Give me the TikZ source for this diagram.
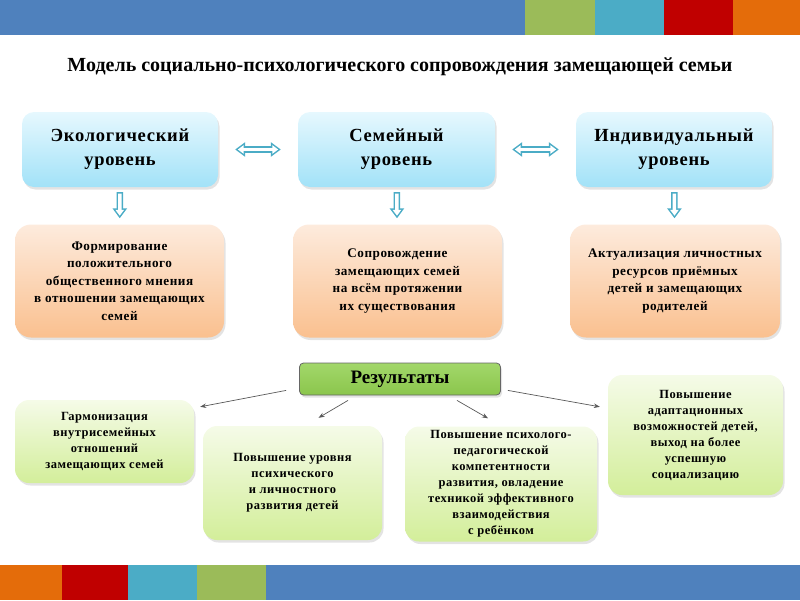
\documentclass[tikz,border=0pt]{standalone}
\usepackage{fontspec}
\setmainfont{Liberation Serif}
\usetikzlibrary{arrows.meta}
\usetikzlibrary{shadows}
\definecolor{barblue}{HTML}{4F81BD}
\definecolor{bargreen}{HTML}{9BBB59}
\definecolor{barcyan}{HTML}{4BACC6}
\definecolor{barred}{HTML}{C00000}
\definecolor{barorange}{HTML}{E46C0A}
\definecolor{levtop}{HTML}{E6F8FE}
\definecolor{levbot}{HTML}{A2E2F8}
\definecolor{acttop}{HTML}{FDEBDD}
\definecolor{actbot}{HTML}{FAC08F}
\definecolor{restop}{HTML}{F5FBE8}
\definecolor{resbot}{HTML}{D3EE9A}
\definecolor{headgreen}{HTML}{92D050}
\definecolor{arrowteal}{HTML}{4BACC6}

\begin{document}
\begin{tikzpicture}[x=1pt,y=-1pt,
	box/.style={align=center,inner sep=2pt,drop shadow={opacity=0.22,shadow xshift=1.5pt,shadow yshift=-2.5pt}},
	level/.style={box,rounded corners=12pt,top color=levtop,bottom color=levbot,minimum width=196pt,minimum height=75pt,
		font=\fontsize{18.5}{24}\selectfont\bfseries\addfontfeatures{LetterSpace=4}},
	action/.style={box,rounded corners=16pt,top color=acttop,bottom color=actbot,minimum width=209pt,minimum height=113pt,
		font=\fontsize{13.2}{17.5}\selectfont\bfseries\addfontfeatures{LetterSpace=4}},
	result/.style={box,rounded corners=14pt,top color=restop,bottom color=resbot,
		font=\fontsize{12.5}{16}\selectfont\bfseries\addfontfeatures{LetterSpace=4}},
	outerhead/.tip={Triangle[length=10pt,width=14pt]},
	innerhead/.tip={Triangle[length=5.9pt,width=8.3pt]},
	blockout/.style={draw=arrowteal,line width=6.5pt},
	blockin/.style={draw=white,line width=3.5pt},
	resarrow/.style={draw=black!65,line width=0.7pt,-{Stealth[length=6pt,width=4.5pt]}}]
\useasboundingbox (0,0) rectangle (800,600);
% colour bars
\fill[barblue] (0,0) rectangle (525,35);
\fill[bargreen] (525,0) rectangle (595,35);
\fill[barcyan] (595,0) rectangle (664,35);
\fill[barred] (664,0) rectangle (733,35);
\fill[barorange] (733,0) rectangle (800,35);
\fill[barorange] (0,565) rectangle (62,600);
\fill[barred] (62,565) rectangle (128,600);
\fill[barcyan] (128,565) rectangle (197,600);
\fill[bargreen] (197,565) rectangle (266,600);
\fill[barblue] (266,565) rectangle (800,600);

\node[font=\fontsize{20}{22}\selectfont\bfseries] (title) at (400,67)
	{Модель социально-психологического сопровождения замещающей семьи};

% levels
\node[level] (eco) at (120,149.5) {Экологический\\уровень};
\node[level,minimum width=197pt] (fam) at (396.5,149.5) {Семейный\\уровень};
\node[level] (ind) at (674,149.5) {Индивидуальный\\уровень};

\draw[blockout,outerhead-outerhead,shorten <=17pt,shorten >=17pt] (eco) -- (fam);
\draw[blockin,innerhead-innerhead,shorten <=19.6pt,shorten >=19.6pt] (eco) -- (fam);
\draw[blockout,outerhead-outerhead,shorten <=17pt,shorten >=17pt] (fam) -- (ind);
\draw[blockin,innerhead-innerhead,shorten <=19.6pt,shorten >=19.6pt] (fam) -- (ind);

% actions
\node[action] (formir) at (119.5,281) {Формирование\\положительного\\общественного мнения\\в отношении замещающих\\семей};
\node[action] (soprov) at (397.5,281) {Сопровождение\\замещающих семей\\на всём протяжении\\их существования};
\node[action,minimum width=210pt] (aktual) at (675,281) {Актуализация личностных\\ресурсов приёмных\\детей и замещающих\\родителей};

\draw[blockout,-outerhead,shorten <=5pt,shorten >=6pt] (eco) -- (formir);
\draw[blockin,-innerhead,shorten <=6.5pt,shorten >=8.6pt] (eco) -- (formir);
\draw[blockout,-outerhead,shorten <=5pt,shorten >=6pt] (fam) -- (soprov);
\draw[blockin,-innerhead,shorten <=6.5pt,shorten >=8.6pt] (fam) -- (soprov);
\draw[blockout,-outerhead,shorten <=5pt,shorten >=6pt] (ind) -- (aktual);
\draw[blockin,-innerhead,shorten <=6.5pt,shorten >=8.6pt] (ind) -- (aktual);

% results
\node[box,rounded corners=4pt,draw=black!60,line width=0.8pt,top color=headgreen!85!white,bottom color=headgreen!95!black,
	minimum width=201pt,minimum height=32pt,font=\fontsize{19}{22}\selectfont\bfseries] (res) at (400,379) {Результаты};

\node[result,minimum width=179pt,minimum height=83pt] (harm) at (104.5,441.5)
	{Гармонизация\\внутрисемейных\\отношений\\замещающих семей};
\node[result,minimum width=179pt,minimum height=114pt] (razv) at (292.5,483)
	{Повышение уровня\\психического\\и личностного\\развития детей};
\node[result,minimum width=192pt,minimum height=115pt] (komp) at (501,484)
	{Повышение психолого-\\педагогической\\компетентности\\развития, овладение\\техникой эффективного\\взаимодействия\\с ребёнком};
\node[result,minimum width=175pt,minimum height=120pt] (adapt) at (695.5,435)
	{Повышение\\адаптационных\\возможностей детей,\\выход на более\\успешную\\социализацию};

\draw[resarrow] ([shift={(-13,-5)}]res.south west) -- ([shift={(6,7)}]harm.north east);
\draw[resarrow] ([shift={(-52,5)}]res.south) -- ([shift={(26,-8)}]razv.north);
\draw[resarrow] ([shift={(57,5)}]res.south) -- ([shift={(-13,-8)}]komp.north);
\draw[resarrow] ([shift={(7,-5)}]res.south east) -- ([shift={(-8,32)}]adapt.north west);
\end{tikzpicture}
\end{document}
